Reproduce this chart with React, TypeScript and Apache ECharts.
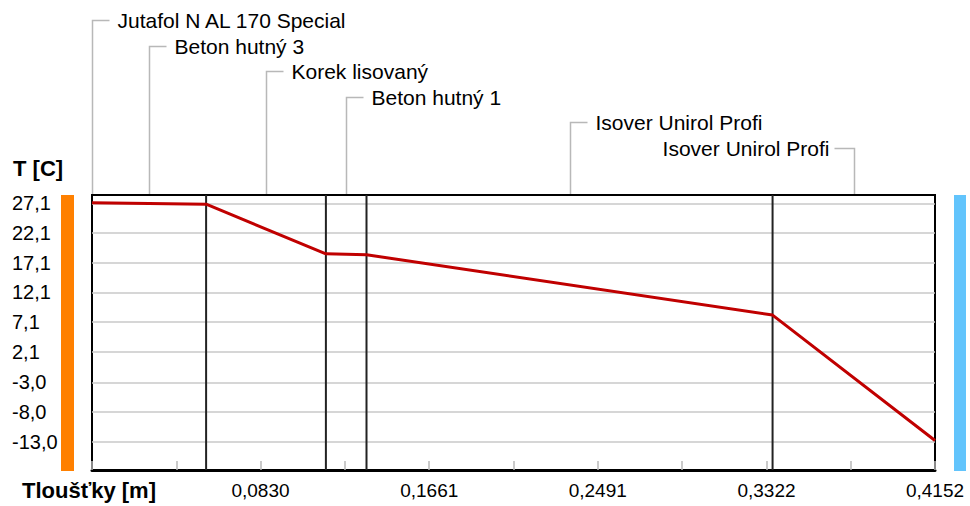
import React, { useEffect, useRef } from 'react';
import * as echarts from 'echarts';

// ---- data ----
const layerNames = [
  'Jutafol N AL 170 Special',
  'Beton hutný 3',
  'Korek lisovaný',
  'Beton hutný 1',
  'Isover Unirol Profi',
  'Isover Unirol Profi',
];
const layerThickness = [0.0002, 0.056, 0.059, 0.02, 0.2, 0.08];
const boundaryTemps = [27.2, 27.2, 26.95, 18.6, 18.45, 8.3, -12.8];
const yTickValues = [27.1, 22.1, 17.1, 12.1, 7.1, 2.1, -3.0, -8.0, -13.0];
const xTickLabels = [0.083, 0.1661, 0.2491, 0.3322, 0.4152];
const xTotal = 0.4152;
const yMin = -17.76;
const yMax = 28.5;
const yTitle = 'T [C]';
const xTitle = 'Tloušťky [m]';

const FONT = "'Liberation Sans', Arial, sans-serif";

export default function App() {
  const ref = useRef<HTMLDivElement>(null);
  useEffect(() => {
    if (!ref.current) return;
    const chart = echarts.init(ref.current, null, { renderer: 'svg' });
    const bounds: number[] = [0];
    layerThickness.forEach((t) => bounds.push(+(bounds[bounds.length - 1] + t).toFixed(6)));
    const lineData = bounds.map((x, i) => [x, boundaryTemps[i]]);
    const inner = bounds.slice(2, -1);

    const gridTop = 195;
    const gridBottom = 470;

    const boundarySeries = inner.map((b) => ({
      type: 'line',
      data: [
        [b, yMin],
        [b, yMax],
      ],
      silent: true,
      showSymbol: false,
      symbol: 'none',
      z: 2,
      lineStyle: { color: '#222', width: 2 },
    }));

    chart.setOption({
      animation: false,
      backgroundColor: '#fff',
      grid: {
        left: 92,
        right: 35,
        top: gridTop,
        bottom: 506 - gridBottom,
        show: true,
        borderColor: '#000',
        borderWidth: 2,
        backgroundColor: '#fff',
        z: 0,
      },
      xAxis: {
        type: 'value',
        min: 0,
        max: xTotal,
        interval: xTotal / 10,
        axisLine: { show: true, onZero: false, lineStyle: { color: '#000', width: 3 } },
        axisTick: { show: true, inside: true, length: 9, lineStyle: { color: '#b8b8b8', width: 1.5 } },
        splitLine: { show: false },
        axisLabel: {
          customValues: xTickLabels,
          formatter: (v: number) => v.toFixed(4).replace('.', ','),
          fontFamily: FONT,
          fontSize: 19,
          color: '#000',
          margin: 11,
        },
      },
      yAxis: {
        type: 'value',
        min: yMin,
        max: yMax,
        axisLine: { show: false },
        axisTick: { show: false },
        splitLine: { show: false },
        axisLabel: {
          customValues: yTickValues,
          formatter: (v: number) => v.toFixed(1).replace('.', ','),
          fontFamily: FONT,
          fontSize: 20,
          color: '#000',
          align: 'left',
          margin: 80,
        },
      },
      series: [
        {
          type: 'line',
          data: lineData,
          silent: true,
          showSymbol: false,
          symbol: 'none',
          lineStyle: { opacity: 0 },
          z: 1,
          markLine: {
            silent: true,
            z: 1,
            symbol: ['none', 'none'],
            label: { show: false },
            lineStyle: { color: '#c8c8c8', width: 1.5, type: 'solid' },
            emphasis: { disabled: true },
            data: yTickValues.map((v) => ({ yAxis: v })),
          },
        },
        ...boundarySeries,
        {
          type: 'line',
          data: lineData,
          z: 6,
          showSymbol: false,
          symbol: 'none',
          lineStyle: { color: '#c00000', width: 3 },
          silent: true,
        },
      ],
    });

    const graphics: any[] = [];
    graphics.push({
      type: 'rect',
      shape: { x: 61, y: gridTop, width: 13, height: gridBottom - gridTop + 1 },
      style: { fill: '#ff8000' },
    });
    graphics.push({
      type: 'rect',
      shape: { x: 954, y: gridTop, width: 12, height: gridBottom - gridTop + 1 },
      style: { fill: '#62c4fc' },
    });
    graphics.push({
      type: 'text',
      x: 13,
      y: 168,
      style: { text: yTitle, font: `bold 22px ${FONT}`, fill: '#000', verticalAlign: 'middle' },
    });
    graphics.push({
      type: 'text',
      x: 22,
      y: 490,
      style: { text: xTitle, font: `bold 22px ${FONT}`, fill: '#000', verticalAlign: 'middle' },
    });

    layerNames.forEach((name, i) => {
      const mid = (bounds[i] + bounds[i + 1]) / 2;
      const px = Math.round(chart.convertToPixel({ xAxisIndex: 0 }, mid) as number) + 0.5;
      const ly = Math.round(20 + i * 25.6) + 0.5;
      const flip = px > 800;
      const hx = flip ? px - 20 : px + 17;
      graphics.push({
        type: 'polyline',
        shape: { points: [[px, gridTop - 1], [px, ly], [hx, ly]] },
        style: { stroke: '#b8b8b8', lineWidth: 1.5, fill: 'none' },
        silent: true,
      });
      graphics.push({
        type: 'text',
        x: flip ? px - 25 : px + 25,
        y: ly,
        style: {
          text: name,
          font: `21px ${FONT}`,
          fill: '#000',
          align: flip ? 'right' : 'left',
          verticalAlign: 'middle',
        },
      });
    });

    chart.setOption({ graphic: graphics });
    return () => chart.dispose();
  }, []);

  return (
    <div
      ref={ref}
      style={{ position: 'fixed', left: 0, top: 0, width: 970, height: 506, background: '#fff' }}
    />
  );
}
